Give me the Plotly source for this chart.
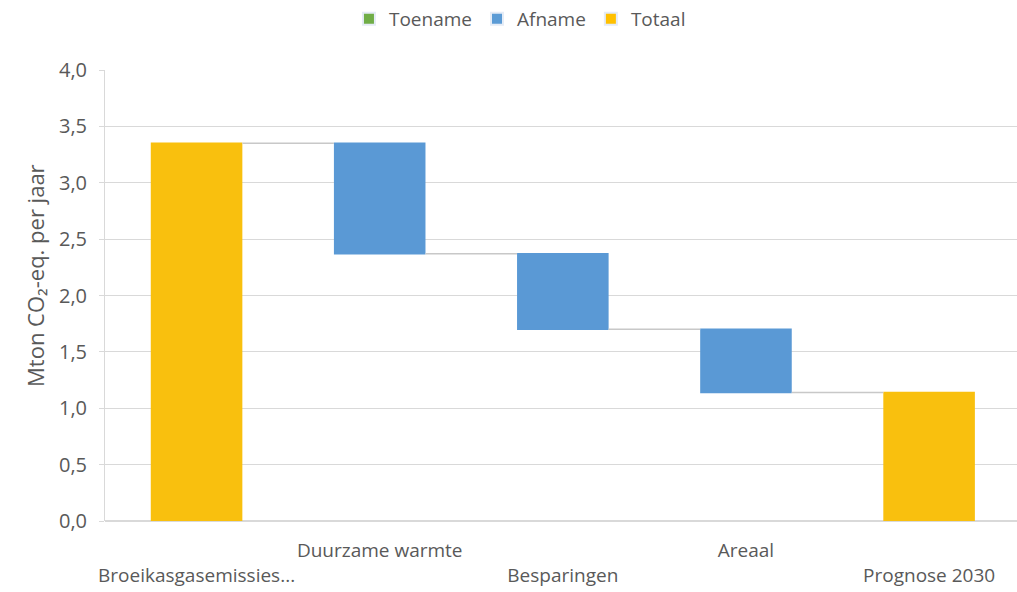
import plotly.graph_objects as go

categories = ["Broeikasgasemissies...", "Duurzame warmte", "Besparingen", "Areaal", "Prognose 2030"]
measures = ["absolute", "relative", "relative", "relative", "total"]
values = [3.35, -0.98, -0.67, -0.56, 0]
legend_names = ["Toename", "Afname", "Totaal"]
legend_colors = ["#70AD47", "#5B9BD5", "#FFC000"]
tick_labels = ["<br>Broeikasgasemissies...", "Duurzame warmte", "<br>Besparingen", "Areaal", "<br>Prognose 2030"]
y_title = "Mton CO₂-eq. per jaar"

FONT = "Open Sans"
GREY = "#595959"

fig = go.Figure()
fig.add_trace(go.Waterfall(
    x=categories, y=values, measure=measures,
    width=0.5,
    increasing=dict(marker=dict(color="#70AD47")),
    decreasing=dict(marker=dict(color="#5A99D5")),
    totals=dict(marker=dict(color="#F9C00E")),
    connector=dict(mode="between", line=dict(color="#C8C8C8", width=1.5)),
    showlegend=False, hoverinfo="x+y",
))
for n, c in zip(legend_names, legend_colors):
    fig.add_trace(go.Bar(x=[None], y=[None], name=n, marker_color=c, showlegend=True))

fig.update_layout(
    width=1017, height=592,
    margin=dict(l=105, r=0, t=70, b=71),
    paper_bgcolor="white", plot_bgcolor="white",
    font=dict(family=FONT, color=GREY, size=19),
    separators=",.",
    legend=dict(orientation="h", x=0.455, xanchor="center",
                y=1.0, yanchor="top", yref="container",
                font=dict(size=19, color=GREY), itemsizing="constant",
                traceorder="normal"),
    xaxis=dict(type="category", categoryorder="array", categoryarray=categories,
               tickvals=categories, ticktext=tick_labels, range=[-0.5, 4.48],
               showgrid=False, showline=False, ticks="", ticklabelstandoff=16,
               tickangle=0, automargin=False,
               tickfont=dict(size=19, color=GREY)),
    yaxis=dict(range=[0, 4.0], dtick=0.5, tickformat=".1f", showgrid=True,
               gridcolor="#D9D9D9", gridwidth=1, zeroline=True, zerolinecolor="#D9D9D9",
               showline=True, linecolor="#D9D9D9", ticks="outside", tickcolor="#D9D9D9",
               ticklen=5, ticklabelstandoff=8, tickfont=dict(size=20, color=GREY),
               automargin=False),
    bargap=0.5,
)
fig.add_annotation(text=y_title, textangle=-90, xref="paper", yref="paper",
                   x=-0.077, y=0.545, xanchor="center", yanchor="middle",
                   showarrow=False, font=dict(size=22, color=GREY, family=FONT))
fig.write_html("out.html")
